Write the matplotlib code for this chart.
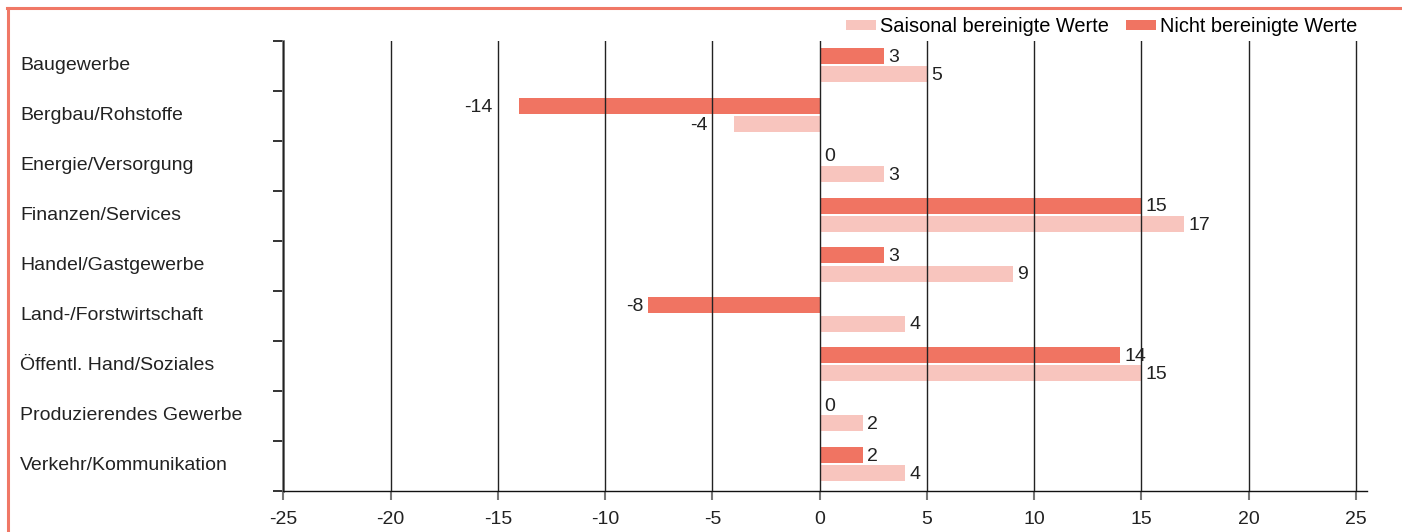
import matplotlib
matplotlib.use("Agg")
import matplotlib.pyplot as plt
from matplotlib.patches import Patch
from matplotlib.lines import Line2D
import matplotlib.transforms as mtrans

plt.rcParams['font.family'] = ['Liberation Sans', 'DejaVu Sans']

categories = ["Baugewerbe", "Bergbau/Rohstoffe", "Energie/Versorgung", "Finanzen/Services",
              "Handel/Gastgewerbe", "Land-/Forstwirtschaft", "Öffentl. Hand/Soziales",
              "Produzierendes Gewerbe", "Verkehr/Kommunikation"]
nicht_bereinigt = [3, -14, 0, 15, 3, -8, 14, 0, 2]
saisonal_bereinigt = [5, -4, 3, 17, 9, 4, 15, 2, 4]
x_ticks = [-25, -20, -15, -10, -5, 0, 5, 10, 15, 20, 25]
series_names = ["Saisonal bereinigte Werte", "Nicht bereinigte Werte"]

DARK = "#F07462"
LIGHT = "#F8C5BE"
BORDER = "#F07866"
FS = 14

W, H = 1402, 532
fig = plt.figure(figsize=(W / 100, H / 100), dpi=100)
ax = fig.add_axes([283.3 / W, 41.5 / H, (1366.7 - 283.3) / W, 449.5 / H])

n = len(categories)
ys = list(range(n))
bh = 0.32
dark_y = [y + 0.294 for y in ys]
light_y = [y + 0.657 for y in ys]
ax.barh(dark_y, nicht_bereinigt, height=bh, color=DARK, zorder=2)
ax.barh(light_y, saisonal_bereinigt, height=bh, color=LIGHT, zorder=2)

ax.set_xlim(-25, 25.5)
ax.set_ylim(n, 0)

for t in x_ticks:
    ax.axvline(t, color="#222222", lw=1.0, zorder=3)

# value labels
neg_pad = {("nb", 1): 27, ("sb", 1): 26}
def label(series_key, vals, yvals):
    for i, (v, y) in enumerate(zip(vals, yvals)):
        if v < 0:
            pad = neg_pad.get((series_key, i), 5)
            ax.annotate(str(v), (v, y), xytext=(-pad * 0.72, -1), textcoords="offset points",
                        ha="right", va="center", fontsize=FS, color="#222222")
        else:
            ax.annotate(str(v), (v, y), xytext=(3, -1), textcoords="offset points",
                        ha="left", va="center", fontsize=FS, color="#222222")
label("nb", nicht_bereinigt, dark_y)
label("sb", saisonal_bereinigt, light_y)

# axes styling
for s in ["top", "right"]:
    ax.spines[s].set_visible(False)
ax.spines["left"].set_color("#777777")
ax.spines["left"].set_linewidth(2)
ax.spines["bottom"].set_color("#111111")
ax.spines["bottom"].set_linewidth(1)

ax.set_yticks(range(n + 1))
ax.set_yticklabels([])
ax.tick_params(axis="y", length=7, width=1.2, color="#111111", direction="out")
ax.set_xticks(x_ticks)
ax.set_xticklabels([str(t) for t in x_ticks], fontsize=FS, color="#222222")
ax.tick_params(axis="x", length=6.5, width=1.5, color="#777777", direction="out", pad=8)

# category labels
trans = mtrans.blended_transform_factory(fig.transFigure, ax.transData)
for y, c in zip(ys, categories):
    fig.text(20 / W, y + 0.5, c, transform=trans, ha="left", va="center",
             fontsize=FS, color="#222222")

# legend
handles = [Patch(facecolor=LIGHT, edgecolor="none"), Patch(facecolor=DARK, edgecolor="none")]
fig.legend(handles, series_names, loc="center right", ncol=2, frameon=False,
           bbox_to_anchor=(1357 / W, 1 - 27 / H), bbox_transform=fig.transFigure,
           fontsize=14.4, handlelength=1.5, handleheight=0.4, handletextpad=0.2,
           columnspacing=0.85, borderpad=0, borderaxespad=0)

# border lines
fig.add_artist(Line2D([7 / W, 1], [1 - 8 / H, 1 - 8 / H], transform=fig.transFigure,
                      color=BORDER, lw=2.2))
fig.add_artist(Line2D([7.5 / W, 7.5 / W], [0, 1 - 8 / H], transform=fig.transFigure,
                      color=BORDER, lw=2.2))

fig.savefig("out.png", dpi=100)
